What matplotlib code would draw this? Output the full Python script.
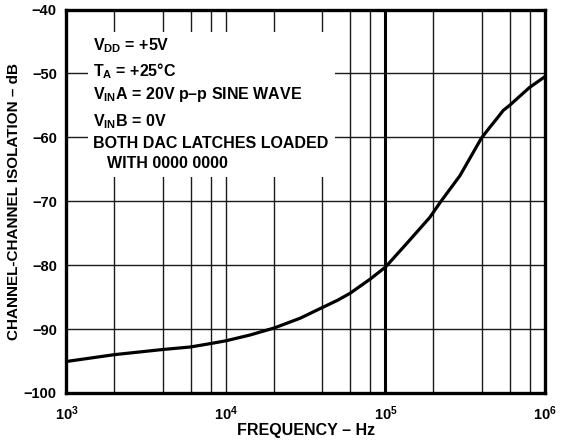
import matplotlib
matplotlib.use("Agg")
import matplotlib.pyplot as plt
from matplotlib.patches import Rectangle

plt.rcParams['font.family'] = ['Liberation Sans', 'DejaVu Sans']
plt.rcParams['font.weight'] = 'bold'
plt.rcParams['mathtext.fontset'] = 'custom'
plt.rcParams['mathtext.bf'] = 'Liberation Sans:bold'
plt.rcParams['mathtext.rm'] = 'Liberation Sans:bold'
plt.rcParams['mathtext.it'] = 'Liberation Sans:bold'

freq_hz = [1e3, 2e3, 4e3, 6e3, 8e3, 1e4, 1.41e4, 2e4, 2.92e4, 3.89e4, 5e4, 6e4, 8e4,
           1e5, 1.36e5, 1.9e5, 2.2e5, 2.93e5, 4e5, 4.52e5, 4.98e5, 5.47e5, 6e5, 8e5, 1e6]
isolation_db = [-95.07, -94.0, -93.2, -92.8, -92.27, -91.83, -90.94, -89.84, -88.3, -86.8,
                -85.5, -84.4, -82.2, -80.3, -76.6, -72.5, -70.2, -66.0, -60.1, -58.4,
                -57.1, -55.8, -55.0, -52.2, -50.5]

grid_mult = [2, 4, 6, 8]
decades = [1e3, 1e4, 1e5]
y_grid = [-90, -80, -70, -60, -50]

y_ticks = [-100, -90, -80, -70, -60, -50, -40]
y_ticklabels = ['\u2212100', '\u221290', '\u221280', '\u221270', '\u221260', '\u221250', '\u221240']
x_ticks = [1e3, 1e4, 1e5, 1e6]
x_ticklabels = [r'10$^{\mathbf{3}}$', r'10$^{\mathbf{4}}$', r'10$^{\mathbf{5}}$', r'10$^{\mathbf{6}}$']

notes = [r'$\mathbf{V_{DD}}$ = +5V',
         r'$\mathbf{T_{A}}$ = +25°C',
         r'$\mathbf{V_{IN}}$A = 20V p–p SINE WAVE',
         r'$\mathbf{V_{IN}}$B = 0V',
         'BOTH DAC LATCHES LOADED',
         'WITH 0000 0000']
notes_x = [0.0554, 0.0554, 0.0554, 0.0554, 0.0554, 0.0846]
notes_y = [0.894, 0.827, 0.767, 0.696, 0.639, 0.587]

fig = plt.figure(figsize=(5.62, 4.42), dpi=100)
ax = fig.add_axes([0.1183, 0.1109, 0.8514, 0.8676])

ax.set_xscale('log')
ax.set_xlim(1e3, 1e6)
ax.set_ylim(-100, -40)

gc = '#1a1a1a'
for dec in decades:
    for m in grid_mult:
        ax.axvline(dec * m, color=gc, lw=1.0, zorder=1)
ax.axvline(1e4, color=gc, lw=1.0, zorder=1)
ax.axvline(1e5, color='black', lw=2.2, zorder=1)
for yv in y_grid:
    ax.axhline(yv, color=gc, lw=1.0, zorder=1)

ax.add_patch(Rectangle((0.045, 0.563), 0.516, 0.378, transform=ax.transAxes,
                       facecolor='white', edgecolor='none', zorder=2))

ax.plot(freq_hz, isolation_db, color='black', lw=2.3, zorder=3,
        solid_joinstyle='round', solid_capstyle='butt')

ax.set_yticks(y_ticks)
ax.set_yticklabels(y_ticklabels)
ax.set_xticks(x_ticks)
ax.set_xticklabels(x_ticklabels)
ax.minorticks_off()
ax.tick_params(axis='y', length=0, labelsize=10.5, pad=7)
ax.tick_params(axis='x', length=0, labelsize=10.5, pad=8)
for lbl in ax.get_xticklabels() + ax.get_yticklabels():
    lbl.set_fontweight('bold')

for s in ax.spines.values():
    s.set_linewidth(2.4)
    s.set_zorder(4)

ax.set_xlabel('FREQUENCY – Hz', fontsize=11.5, fontweight='bold', labelpad=0)
ax.set_ylabel('CHANNEL-CHANNEL ISOLATION – dB', fontsize=11, fontweight='bold')
ax.yaxis.set_label_coords(-0.096, 0.5)

for t, xx, yy in zip(notes, notes_x, notes_y):
    ax.text(xx, yy, t, transform=ax.transAxes, fontsize=11.5, fontweight='bold',
            va='baseline', ha='left', zorder=5)

fig.savefig('out.png', dpi=100)
